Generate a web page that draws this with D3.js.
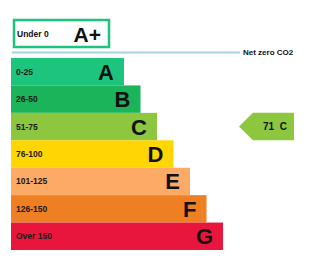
<!DOCTYPE html>
<html>
<head>
<meta charset="utf-8">
<script src="https://cdn.jsdelivr.net/npm/d3@7"></script>
<style>
  body { margin: 0; background: #fff; }
  text { font-family: "Liberation Sans", Arial, sans-serif; font-weight: bold; }
</style>
</head>
<body>
<div id="chart"></div>
<script>
// ratings
var letters = ["A", "B", "C", "D", "E", "F", "G"];
var ranges = ["0-25", "26-50", "51-75", "76-100", "101-125", "126-150", "Over 150"];
var colors = ["#1cc47e", "#1bb45a", "#8dc63f", "#ffd502", "#fcaa65", "#ef7f23", "#e8163c"];
var currentScore = 71;
var currentLetter = "C";
var topLabel = "Under 0";
var topLetter = "A+";
var lineLabel = "Net zero CO2";

var width = 313, height = 259;

var svg = d3.select("#chart").append("svg")
    .attr("width", width)
    .attr("height", height);

var y = d3.scaleBand()
    .domain(letters)
    .range([58, 250])
    .padding(0);

// bar length grows with band index
var w = d3.scaleLinear()
    .domain([0, letters.length - 1])
    .range([113, 212]);

var x0 = 11;

// A+ box
svg.append("rect")
    .attr("x", 14).attr("y", 20)
    .attr("width", 95).attr("height", 27)
    .attr("fill", "#fff")
    .attr("stroke", "#1cc47e")
    .attr("stroke-width", 2.5);

svg.append("text")
    .attr("x", 17).attr("y", 37)
    .attr("font-size", 8.5)
    .attr("fill", "#111")
    .text(topLabel);

svg.append("text")
    .attr("x", 101).attr("y", 42)
    .attr("text-anchor", "end")
    .attr("font-size", 21)
    .attr("fill", "#111")
    .text(topLetter);

// net zero line
svg.append("line")
    .attr("x1", 12).attr("x2", 240)
    .attr("y1", 52.5).attr("y2", 52.5)
    .attr("stroke", "#a9d2e0")
    .attr("stroke-width", 2);

svg.append("text")
    .attr("x", 243).attr("y", 55)
    .attr("font-size", 8)
    .attr("fill", "#111")
    .text(lineLabel);

// bars
var rows = svg.selectAll(".band")
    .data(letters)
    .enter().append("g")
    .attr("class", "band");

rows.append("rect")
    .attr("x", x0)
    .attr("y", function(d) { return y(d); })
    .attr("width", function(d, i) { return w(i); })
    .attr("height", y.bandwidth())
    .attr("fill", function(d, i) { return colors[i]; });

rows.append("text")
    .attr("x", 16)
    .attr("y", function(d) { return y(d) + y.bandwidth() / 2 + 3; })
    .attr("font-size", 8.5)
    .attr("fill", "#1a1a1a")
    .text(function(d, i) { return ranges[i]; });

rows.append("text")
    .attr("x", function(d, i) { return x0 + w(i) - 10; })
    .attr("y", function(d) { return y(d) + y.bandwidth() / 2 + 8; })
    .attr("text-anchor", "end")
    .attr("font-size", 22)
    .attr("fill", "#111")
    .text(function(d) { return d; });

// current rating arrow
var ay = y(currentLetter), ah = y.bandwidth();
var tip = 239, body = 253, right = 294;
svg.append("path")
    .attr("d", "M" + tip + "," + (ay + ah / 2) +
        "L" + body + "," + ay +
        "L" + right + "," + ay +
        "L" + right + "," + (ay + ah) +
        "L" + body + "," + (ay + ah) + "Z")
    .attr("fill", colors[letters.indexOf(currentLetter)]);

svg.append("text")
    .attr("x", 275)
    .attr("y", ay + ah / 2 + 3.5)
    .attr("text-anchor", "middle")
    .attr("font-size", 10)
    .attr("fill", "#111")
    .attr("xml:space", "preserve")
    .text(currentScore + "  " + currentLetter);
</script>
</body>
</html>
